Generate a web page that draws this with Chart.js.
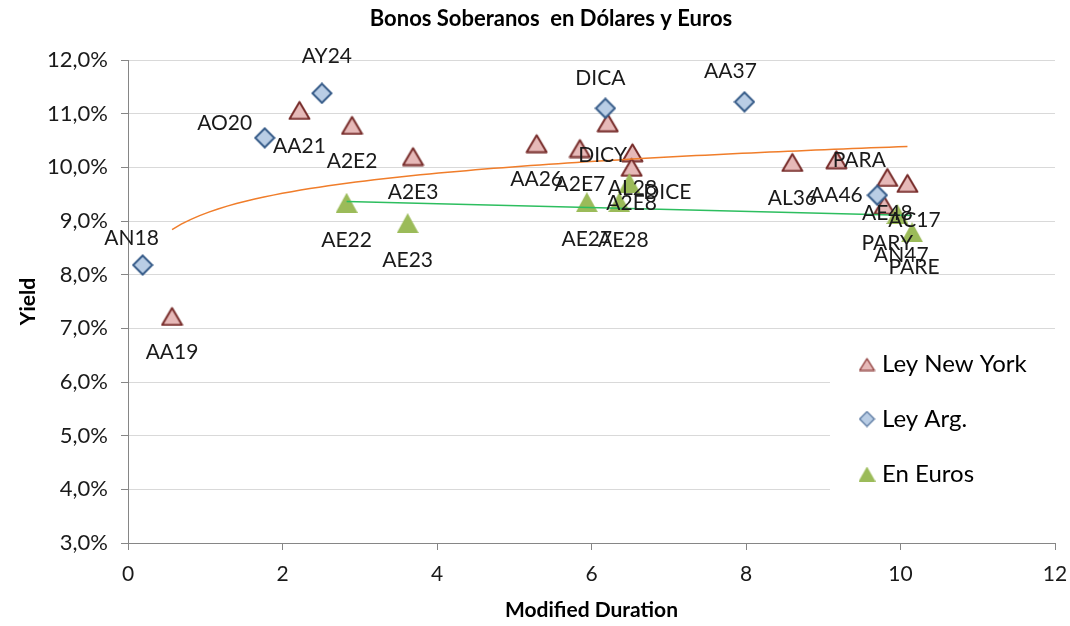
<!DOCTYPE html>
<html>
<head>
<meta charset="utf-8">
<title>Bonos Soberanos en Dólares y Euros</title>
<script src="https://cdn.jsdelivr.net/npm/chart.js@4.4.1/dist/chart.umd.min.js"></script>
<style>
  html, body { margin: 0; padding: 0; background: #fff; }
  #wrap { width: 1070px; height: 626px; position: relative; }
</style>
</head>
<body>
<div id="wrap"><canvas id="bonosChart"></canvas></div>
<script>
// ===============================
// DATOS (duración modificada / yield %)
// ===============================
const nyLabels   = ['AA19', 'AA21', 'A2E2', 'A2E3', 'AA26', 'A2E7', 'DICY', 'AL28', 'A2E8', 'AL36', 'AA46', 'AE48', 'AC17', 'PARY'];
const nyDuration = [0.57, 2.22, 2.90, 3.69, 5.29, 5.85, 6.21, 6.53, 6.52, 8.60, 9.17, 9.83, 10.09, 9.79];
const nyYield    = [7.23, 11.07, 10.79, 10.21, 10.45, 10.36, 10.84, 10.28, 10.01, 10.10, 10.15, 9.82, 9.71, 9.30];

const argLabels   = ['AN18', 'AO20', 'AY24', 'DICA', 'AA37', 'PARA'];
const argDuration = [0.19, 1.77, 2.51, 6.18, 7.98, 9.70];
const argYield    = [8.18, 10.55, 11.38, 11.10, 11.22, 9.48];

const eurLabels   = ['AE22', 'AE23', 'AE27', 'AE28', 'DICE', 'AN47', 'PARE'];
const eurDuration = [2.83, 3.62, 5.94, 6.36, 6.49, 9.96, 10.15];
const eurYield    = [9.34, 8.96, 9.35, 9.35, 9.71, 9.13, 8.79];

const seriesNames = ['Ley New York', 'Ley Arg.', 'En Euros'];
const yTickLabels = ['3,0%', '4,0%', '5,0%', '6,0%', '7,0%', '8,0%', '9,0%', '10,0%', '11,0%', '12,0%'];

const FONT = 'Lato, "Open Sans", "DejaVu Sans", sans-serif';

// ===============================
// LINEAS DE TENDENCIA (ajuste sobre los datos)
// ===============================
function ajusteLineal(xs, ys) {
    const n = xs.length;
    const mx = xs.reduce((a, b) => a + b, 0) / n;
    const my = ys.reduce((a, b) => a + b, 0) / n;
    let sxy = 0, sxx = 0;
    for (let i = 0; i < n; i++) {
        sxy += (xs[i] - mx) * (ys[i] - my);
        sxx += (xs[i] - mx) * (xs[i] - mx);
    }
    const b = sxy / sxx;
    return x => my + b * (x - mx);
}

function ajusteLog(xs, ys) {
    const f = ajusteLineal(xs.map(Math.log), ys);
    return x => f(Math.log(x));
}

function curva(fn, xs, pasos) {
    const x0 = Math.min(...xs), x1 = Math.max(...xs);
    const pts = [];
    for (let i = 0; i <= pasos; i++) {
        const x = x0 + (x1 - x0) * i / pasos;
        pts.push({ x: x, y: fn(x) });
    }
    return pts;
}

const toPoints = (xs, ys) => xs.map((x, i) => ({ x: x, y: ys[i] }));

// ===============================
// MARCADORES
// ===============================
function triangulo(w, h, fill, stroke, lw) {
    const c = document.createElement('canvas');
    c.width = w; c.height = h;
    const g = c.getContext('2d');
    const m = lw ? lw / 2 + 0.5 : 0;
    g.beginPath();
    g.moveTo(w / 2, m + (lw ? 1 : 0));
    g.lineTo(w - m, h - m);
    g.lineTo(m, h - m);
    g.closePath();
    g.fillStyle = fill;
    g.fill();
    if (lw) {
        g.lineWidth = lw;
        g.strokeStyle = stroke;
        g.lineJoin = 'round';
        g.stroke();
    }
    return c;
}

function rombo(w, h, fill, stroke, lw) {
    const c = document.createElement('canvas');
    c.width = w; c.height = h;
    const g = c.getContext('2d');
    const m = lw / 2 + 0.5;
    g.beginPath();
    g.moveTo(w / 2, m);
    g.lineTo(w - m, h / 2);
    g.lineTo(w / 2, h - m);
    g.lineTo(m, h / 2);
    g.closePath();
    g.fillStyle = fill;
    g.fill();
    g.lineWidth = lw;
    g.strokeStyle = stroke;
    g.lineJoin = 'miter';
    g.stroke();
    return c;
}

const mNY  = triangulo(23, 21, '#E6B9B8', '#772C2A', 2);
const mARG = rombo(22, 22, '#B9CDE5', '#385D8A', 2);
const mEUR = triangulo(22, 20, '#9BBB59');

const legendMarks = [
    triangulo(17, 15, '#E6B9B8', '#8C3836', 1.2),
    rombo(17, 17, '#B9CDE5', '#4F6F9A', 1.2),
    triangulo(17, 15, '#9BBB59')
];

// ajustes manuales de etiquetas (como en la planilla)
const labelNudge = {
    DICY: [-5, 33], AC17: [7, 37], PARY: [3, 38],
    AN18: [-11, -27], AO20: [-40, -15], AY24: [5, -37], DICA: [-5, -30], AA37: [-14, -31], PARA: [-18, -35],
    AE28: [4, 38], DICE: [38, 9], AN47: [4, 41], PARE: [2, 35]
};

// ===============================
// PLUGINS
// ===============================
const etiquetasPlugin = {
    id: 'etiquetas',
    afterDatasetsDraw(chart) {
        const ctx = chart.ctx;
        ctx.save();
        ctx.font = '21px ' + FONT;
        ctx.fillStyle = '#1a1a1a';
        ctx.textAlign = 'center';
        ctx.textBaseline = 'middle';
        chart.data.datasets.forEach((ds, i) => {
            if (!ds.pointLabels) return;
            chart.getDatasetMeta(i).data.forEach((el, j) => {
                const name = ds.pointLabels[j];
                const off = labelNudge[name] || ds.labelOffset;
                ctx.fillText(name, el.x + off[0], el.y + off[1]);
            });
        });
        ctx.restore();
    }
};

const leyendaPlugin = {
    id: 'leyenda',
    beforeDatasetsDraw(chart) {
        const ctx = chart.ctx;
        const area = chart.chartArea;
        ctx.save();
        ctx.fillStyle = '#fff';
        ctx.fillRect(830, 335, area.right - 830, 178);
        ctx.font = '24px ' + FONT;
        ctx.fillStyle = '#000';
        ctx.textAlign = 'left';
        ctx.textBaseline = 'middle';
        seriesNames.forEach((name, i) => {
            const y = 364 + i * 55;
            const mk = legendMarks[i];
            ctx.drawImage(mk, 867 - mk.width / 2, y - mk.height / 2);
            ctx.fillText(name, 882, y);
        });
        ctx.restore();
    }
};

const tituloPlugin = {
    id: 'titulo',
    afterDraw(chart) {
        const ctx = chart.ctx;
        ctx.save();
        ctx.font = 'bold 22px ' + FONT;
        ctx.fillStyle = '#000';
        ctx.textAlign = 'center';
        ctx.textBaseline = 'middle';
        ctx.fillText('Bonos Soberanos  en Dólares y Euros', 551, 19);
        ctx.restore();
    }
};

// ===============================
// GRAFICO
// ===============================
const fnNY  = ajusteLog(nyDuration, nyYield);
const fnEUR = ajusteLineal(eurDuration, eurYield);

new Chart(document.getElementById('bonosChart'), {
    type: 'scatter',
    data: {
        datasets: [
            {
                label: 'Tendencia NY',
                data: curva(fnNY, nyDuration, 80),
                showLine: true,
                borderColor: '#F07D2A',
                borderWidth: 1.5,
                pointRadius: 0,
                order: 0
            },
            {
                label: 'Tendencia Euros',
                data: curva(fnEUR, eurDuration, 2),
                showLine: true,
                borderColor: '#2DBE5F',
                borderWidth: 1.5,
                pointRadius: 0,
                order: 0
            },
            {
                label: seriesNames[0],
                data: toPoints(nyDuration, nyYield),
                pointStyle: mNY,
                pointRadius: 10,
                pointLabels: nyLabels,
                labelOffset: [0, 36],
                order: 3
            },
            {
                label: seriesNames[1],
                data: toPoints(argDuration, argYield),
                pointStyle: mARG,
                pointRadius: 10,
                pointLabels: argLabels,
                labelOffset: [-8, -32],
                order: 2
            },
            {
                label: seriesNames[2],
                data: toPoints(eurDuration, eurYield),
                pointStyle: mEUR,
                pointRadius: 10,
                pointLabels: eurLabels,
                labelOffset: [0, 37],
                order: 1
            }
        ]
    },
    options: {
        responsive: true,
        maintainAspectRatio: false,
        animation: false,
        devicePixelRatio: 1,
        layout: { padding: { top: 60, right: 15, left: 0, bottom: 0 } },
        plugins: {
            legend: { display: false },
            title: { display: false },
            tooltip: { enabled: false }
        },
        scales: {
            x: {
                type: 'linear',
                min: 0,
                max: 12,
                ticks: { stepSize: 2, color: '#1a1a1a', font: { family: FONT, size: 21 }, padding: 12, maxRotation: 0 },
                grid: { color: 'rgba(0,0,0,0)', tickColor: '#868686', tickLength: 7, drawTicks: true },
                border: { color: '#868686', width: 1 },
                title: {
                    display: true,
                    text: 'Modified Duration',
                    color: '#000',
                    font: { family: FONT, size: 21, weight: 'bold' },
                    padding: { top: 0, bottom: 3 }
                },
                afterFit: s => { s.height = 83; s.paddingLeft = 0; s.paddingRight = 0; }
            },
            y: {
                min: 3,
                max: 12,
                ticks: {
                    stepSize: 1,
                    color: '#1a1a1a',
                    font: { family: FONT, size: 22 },
                    padding: 13,
                    callback: (v, i) => yTickLabels[i]
                },
                grid: { color: '#D9D9D9', tickColor: '#868686', tickLength: 7, drawTicks: true },
                border: { color: '#868686', width: 1 },
                title: {
                    display: true,
                    text: 'Yield',
                    color: '#000',
                    font: { family: FONT, size: 21, weight: 'bold' },
                    padding: { top: 16, bottom: 0 }
                },
                afterFit: s => { s.width = 128; s.paddingTop = 0; s.paddingBottom = 0; }
            }
        }
    },
    plugins: [leyendaPlugin, etiquetasPlugin, tituloPlugin]
});
</script>
</body>
</html>
